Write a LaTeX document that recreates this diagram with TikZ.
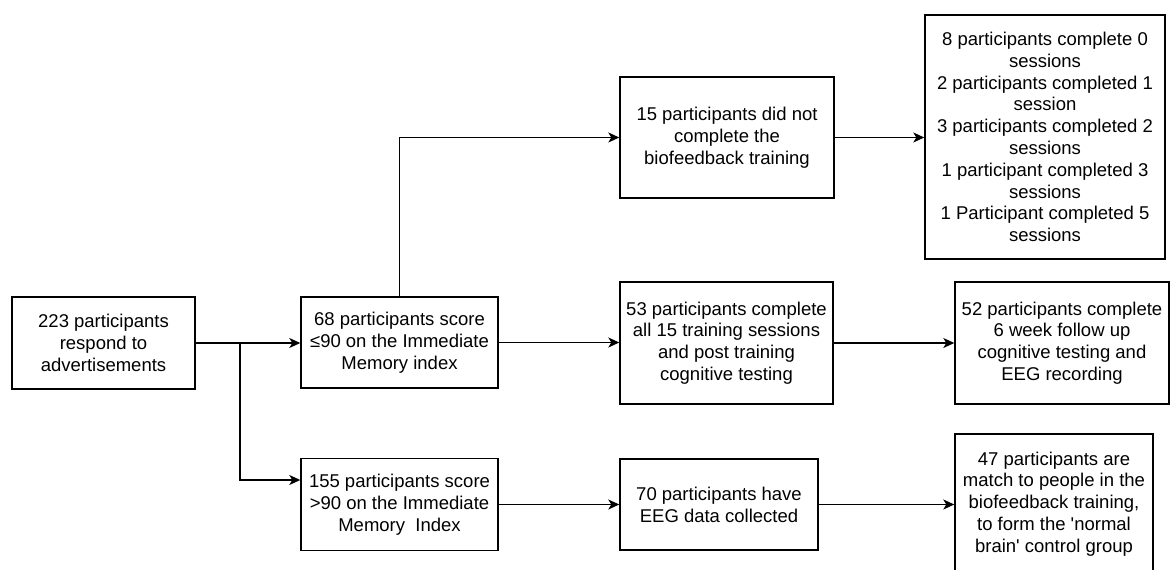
\documentclass[tikz,border=0pt]{standalone}
\usepackage{fontspec}
\setmainfont{Liberation Sans}
\usetikzlibrary{arrows.meta}
\begin{document}
\begin{tikzpicture}[x=1pt,y=-1pt,
  box/.style={draw, line width=1.4pt, align=center, inner sep=0pt,
    font=\fontsize{18.5}{21.8}\selectfont},
  flow/.style={line width=1.4pt, -{Stealth[length=11pt,width=10pt,inset=3pt]}}]
\useasboundingbox (0,0) rectangle (1176,570);
\fill[white] (0,0) rectangle (1176,570);

% boxes
\node[box, minimum width=183pt, minimum height=92pt] (a) at (103.5,343)
  {223 participants\\respond to\\advertisements};
\node[box, minimum width=197pt, minimum height=91pt] (b) at (399.5,342.5)
  {68 participants score\\≤90 on the Immediate\\Memory index};
\node[box, minimum width=197pt, minimum height=92pt] (c) at (399.5,504.5)
  {155 participants score\\>90 on the Immediate\\Memory\ \ Index};
\node[box, minimum width=214pt, minimum height=121pt] (d) at (727,137.5)
  {15 participants did not\\complete the\\biofeedback training};
\node[box, minimum width=240pt, minimum height=244pt] (e) at (1045,137)
  {8 participants complete 0\\sessions\\2 participants completed 1\\session\\3 participants completed 2\\sessions\\1 participant completed 3\\sessions\\1 Participant completed 5\\sessions};
\node[box, minimum width=213pt, minimum height=122pt] (f) at (726.5,343)
  {53 participants complete\\all 15 training sessions\\and post training\\cognitive testing};
\node[box, minimum width=214pt, minimum height=122pt] (g) at (1062,343)
  {52 participants complete\\6 week follow up\\cognitive testing and\\EEG recording};
\node[box, minimum width=198pt, minimum height=91pt] (h) at (719,504.5)
  {70 participants have\\EEG data collected};
\node[box, minimum width=198pt, minimum height=140pt] (i) at (1054,504)
  {47 participants are\\match to people in the\\biofeedback training,\\to form the \textquotesingle normal\\brain\textquotesingle\ control group};

% connectors
\coordinate (split) at (240,343);
\path (c.west) ++(0,-24.5) coordinate (cin);
\draw[flow] (a.east) -- (a.east -| b.west);
\draw[flow] (split) |- (cin);
\draw[flow] (b.north) |- (d.west);
\draw[flow] (b.east) -- (b.east -| f.west);
\draw[flow] (d.east) -- (d.east -| e.west);
\draw[flow] (f.east) -- (g.west);
\draw[flow] (c.east) -- (h.west);
\draw[flow] (h.east) -- (h.east -| i.west);
\end{tikzpicture}
\end{document}
